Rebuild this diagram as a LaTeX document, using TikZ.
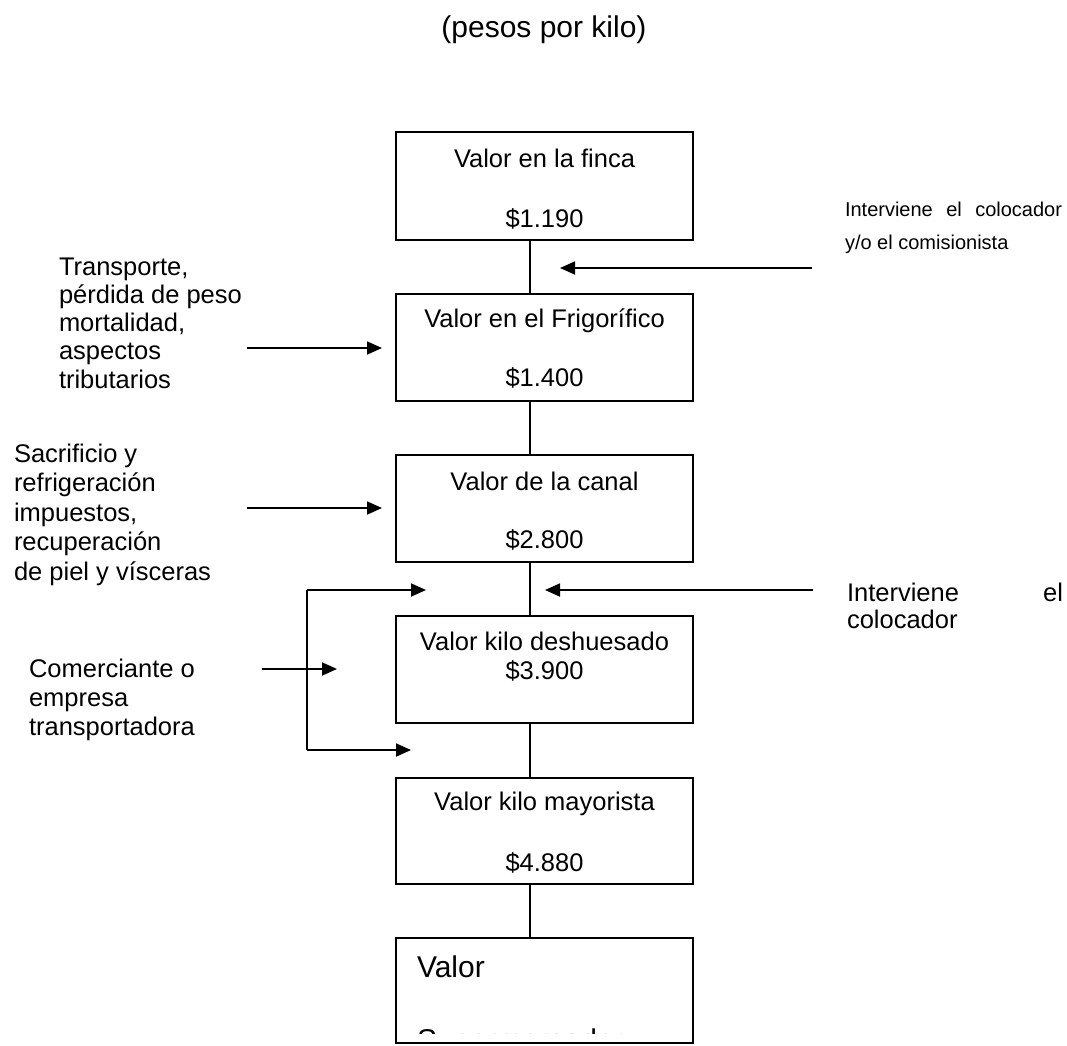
\documentclass[tikz,border=0pt]{standalone}
\usepackage{fontspec}
\setmainfont{Liberation Sans}
\usetikzlibrary{arrows.meta}

\begin{document}
\begin{tikzpicture}[x=1pt,y=-1pt,
  every node/.style={inner sep=0pt, outer sep=0pt, font=\fontsize{25.5}{28.3}\selectfont},
  box/.style={draw, line width=1.8pt, minimum width=297pt, anchor=north west},
  link/.style={line width=1.8pt},
  flow/.style={line width=1.8pt, -{Triangle[length=15pt,width=13pt]}},
  note/.style={anchor=base west},
  price/.style={anchor=base}]
\useasboundingbox (0,0) rectangle (1067,1045);

% title
\node[anchor=base, font=\fontsize{30}{34}\selectfont] (title) at (544,37) {(pesos por kilo)};

% value chain boxes
\node[box, minimum height=108pt] (b1) at (396,132) {};
\node[box, minimum height=107pt] (b2) at (396,294) {};
\node[box, minimum height=107pt] (b3) at (396,455) {};
\node[box, minimum height=107pt] (b4) at (396,616) {};
\node[box, minimum height=106pt] (b5) at (396,778) {};
\node[box, minimum height=105pt] (b6) at (396,938) {};

% box texts
\node[price] (t1a) at (544.5,167) {Valor en la finca};
\node[price] (t1b) at (544.5,227) {\$1.190};
\node[price] (t2a) at (544.5,327) {Valor en el Frigorífico};
\node[price] (t2b) at (544.5,386) {\$1.400};
\node[price] (t3a) at (544.5,490) {Valor de la canal};
\node[price] (t3b) at (544.5,548) {\$2.800};
\node[price] (t4a) at (544.5,650) {Valor kilo deshuesado};
\node[price] (t4b) at (544.5,679) {\$3.900};
\node[price] (t5a) at (544.5,810) {Valor kilo mayorista};
\node[price] (t5b) at (544.5,871) {\$4.880};
\begin{scope}
  \clip (397,939) rectangle (692,1033.5);
  \node[note, font=\fontsize{30}{34}\selectfont] (t6a) at (417,977) {Valor};
  \node[note, font=\fontsize{30}{34}\selectfont] (t6b) at (417,1050) {Supermercados};
\end{scope}

% vertical links between boxes
\coordinate (spine) at (530,0);
\draw[link] (b1.south -| spine) -- (b2.north -| spine);
\draw[link] (b2.south -| spine) -- (b3.north -| spine);
\draw[link] (b3.south -| spine) -- (b4.north -| spine);
\draw[link] (b4.south -| spine) -- (b5.north -| spine);
\draw[link] (b5.south -| spine) -- (b6.north -| spine);

% side notes
\begin{scope}
  \clip (0,240) rectangle (245,389.5);
  \node[note] (n1) at (59,275) {\parbox[t]{220pt}{Transporte,\\pérdida de peso\\mortalidad,\\aspectos\\tributarios}};
\end{scope}
\node[note, font=\fontsize{25.5}{29.5}\selectfont] (n2) at (14,462) {\parbox[t]{220pt}{Sacrificio y\\refrigeración\\impuestos,\\recuperación\\de piel y vísceras}};
\node[note, font=\fontsize{25.5}{29}\selectfont] (n3) at (29,677) {\parbox[t]{220pt}{Comerciante o\\empresa\\transportadora}};
\node[note, font=\fontsize{20}{24}\selectfont] (n4) at (845,216) {\makebox[217pt][l]{Interviene\hfill el\hfill colocador}};
\node[note, font=\fontsize{20}{24}\selectfont] (n5) at (845,249) {y/o el comisionista};
\node[note] (n6) at (847,601) {\makebox[216pt][l]{Interviene\hfill el}};
\node[note] (n7) at (847,628) {colocador};

% arrows
\coordinate (a1s) at (812,268);  \coordinate (a1e) at (560,268);
\coordinate (a2s) at (247,348);  \coordinate (a2e) at (382,348);
\coordinate (a3s) at (247,508);  \coordinate (a3e) at (382,508);
\coordinate (a4s) at (262,669);  \coordinate (a4e) at (337,669);
\coordinate (a5s) at (813,590);  \coordinate (a5e) at (545,590);
\coordinate (bt) at (307,590);   \coordinate (bb) at (307,750);
\coordinate (bte) at (426,590);  \coordinate (bbe) at (411,750);

\draw[flow] (a1s) -- (a1e);
\draw[flow] (a2s) -- (a2e);
\draw[flow] (a3s) -- (a3e);
\draw[flow] (a4s) -- (a4e);
\draw[flow] (a5s) -- (a5e);
\draw[flow] (bt) -- (bte);
\draw[flow] (bb) -- (bbe);
\draw[link] (bt) -- (bb);
\end{tikzpicture}
\end{document}
